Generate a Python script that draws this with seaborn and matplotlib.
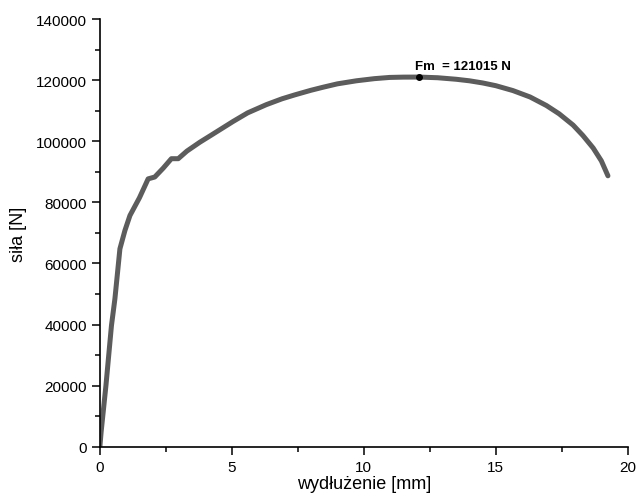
import matplotlib
matplotlib.use("Agg")
import matplotlib.pyplot as plt
from matplotlib.ticker import MultipleLocator
import pandas as pd
import seaborn as sns

# wydluzenie [mm] i sila [N]
wydluzenie = [0, 0.05, 0.23, 0.44, 0.57, 0.76, 0.95, 1.14, 1.5, 1.83, 2.08, 2.4, 2.71, 2.97,
              3.3, 3.79, 4.2, 5.05, 5.6, 6.31, 6.9, 7.39, 8.0, 8.46, 9.0, 9.72, 10.4,
              10.98, 11.5, 12.1, 12.8, 13.5, 14.0, 14.5, 15.0, 15.65, 16.3, 16.92,
              17.4, 17.93, 18.3, 18.69, 19.0, 19.25]
sila = [0, 5000, 20000, 39700, 48400, 64800, 70800, 75700, 81500, 87700, 88300, 91200,
        94300, 94300, 96800, 99700, 101900, 106500, 109300, 112000, 113900, 115200,
        116700, 117700, 118800, 119800, 120500, 120900, 121000, 121015, 120800, 120300,
        119800, 119100, 118200, 116600, 114500, 111700, 109000, 105300, 101900, 97800,
        93600, 88700]
fm_x = 12.1
fm_val = 121015
fm_tekst = "Fm  = 121015 N"

sns.set_style("ticks")
plt.rcParams["font.family"] = ["Liberation Sans", "DejaVu Sans"]

df = pd.DataFrame({"x": wydluzenie, "y": sila})

fig = plt.figure(figsize=(6.36, 5.02), dpi=100)
ax = fig.add_axes([0.157, 0.108, 0.83, 0.852])

sns.lineplot(data=df, x="x", y="y", ax=ax, color="#5c5c5c", linewidth=3.6,
             estimator=None, sort=False, solid_joinstyle="round")
ax.plot([fm_x], [fm_val], "o", color="black", markersize=4, zorder=5)
ax.text(fm_x - 0.15, fm_val + 1800, fm_tekst, fontsize=9.5, fontweight="bold",
        color="black", ha="left", va="bottom")

ax.set_xlim(0, 20)
ax.set_ylim(0, 140000)
ax.xaxis.set_major_locator(MultipleLocator(5))
ax.xaxis.set_minor_locator(MultipleLocator(2.5))
ax.yaxis.set_major_locator(MultipleLocator(20000))
ax.yaxis.set_minor_locator(MultipleLocator(10000))
ax.tick_params(which="major", length=6, width=1.1, labelsize=11, color="black", labelcolor="black")
ax.tick_params(which="minor", length=3.5, width=1.1, color="black")
for s in ["left", "bottom"]:
    ax.spines[s].set_linewidth(1.2)
    ax.spines[s].set_color("black")
sns.despine(ax=ax)

ax.set_xlabel("wydłużenie [mm]", fontsize=13, labelpad=1, color="black")
ax.set_ylabel("siła [N]", fontsize=13, labelpad=6, color="black")

fig.savefig("out.png", dpi=100)
